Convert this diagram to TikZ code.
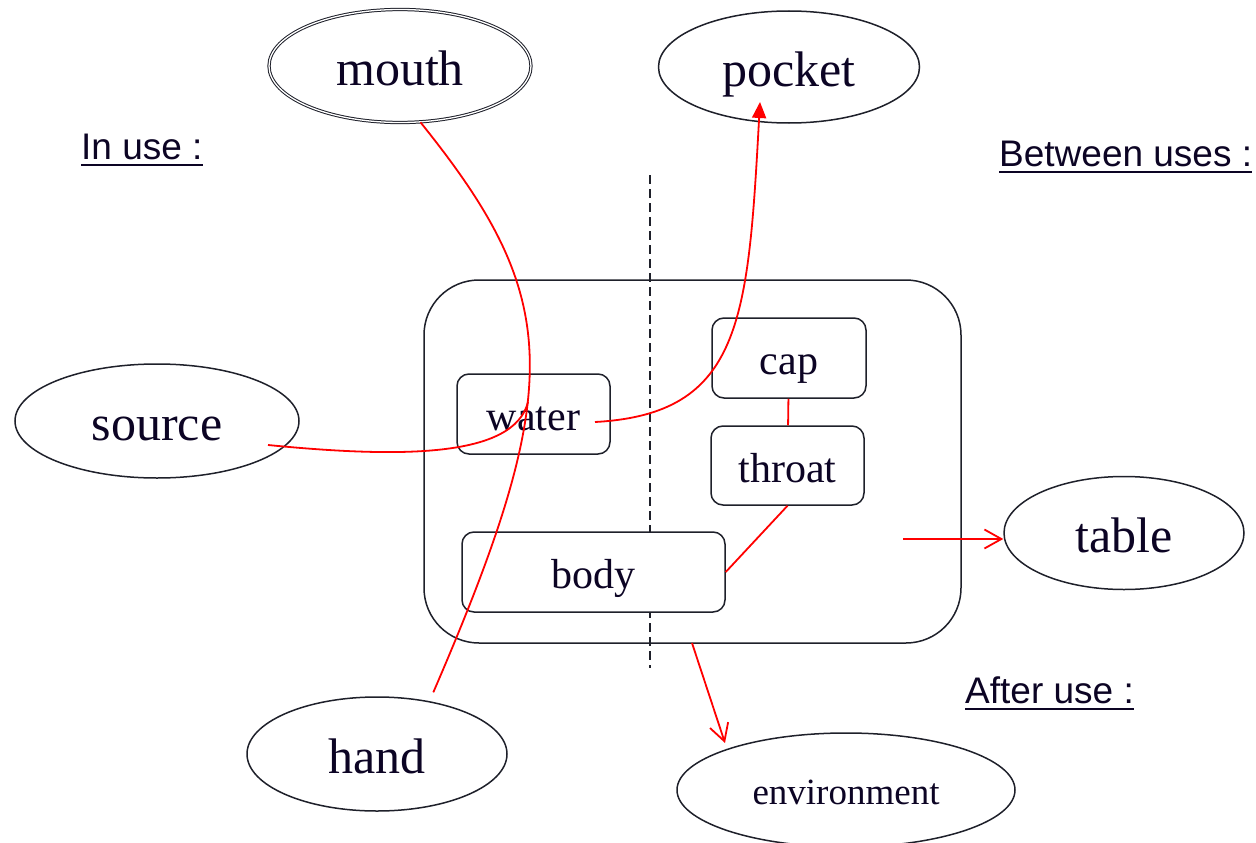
\documentclass[tikz,border=0pt]{standalone}
\usepackage{fontspec}
\setmainfont{Liberation Serif}
\setsansfont{Liberation Sans}
\usetikzlibrary{shapes.geometric,arrows.meta}
\definecolor{ink}{RGB}{12,4,36}
\definecolor{edge}{RGB}{30,32,42}
\definecolor{flow}{RGB}{255,0,0}
\begin{document}
\begin{tikzpicture}[x=1pt,y=-1pt,
  oval/.style={ellipse,draw=edge,line width=1.5pt,inner sep=0pt,text=ink,
    font=\fontsize{50}{60}\selectfont,text height=50.5pt,text depth=10.8pt},
  part/.style={rectangle,rounded corners=12pt,draw=edge,fill=white,line width=1.5pt,
    inner sep=0pt,text=ink,font=\fontsize{42}{50}\selectfont,
    text height=43pt,text depth=9.1pt},
  phase/.style={inner sep=0pt,anchor=base west,text=ink,
    font=\sffamily\fontsize{37}{44}\selectfont},
  flowline/.style={draw=flow,line width=1.8pt},
  openhead/.style={-{Straight Barb[length=17pt,width=19pt,line width=1.8pt]}},
  filledhead/.style={-{Triangle[length=16pt,width=14pt]}},
  ]
\useasboundingbox (0,0) rectangle (1256,843);

% outer bottle outline and the in-use / between-uses divider
\node[draw=edge,line width=1.5pt,rounded corners=55pt,minimum width=537pt,
      minimum height=363pt,inner sep=0pt] (bottle) at (692.5,461.5) {};
\draw[edge,line width=2pt,dash pattern=on 9pt off 5pt] (650,175) -- (650,668);

% parts of the bottle
\node[part,minimum width=153pt,minimum height=80pt] (water)  at (533.5,414) {water};
\node[part,minimum width=154pt,minimum height=80pt] (cap)    at (789,358)   {cap};
\node[part,minimum width=153pt,minimum height=79pt] (throat) at (787.5,465.5) {throat};
\node[part,minimum width=263pt,minimum height=80pt] (body)   at (593.5,572) {body};

% surroundings
\node[oval,double=white,double distance=1.3pt,line width=1pt,
      minimum width=262pt,minimum height=113pt] (mouth) at (400,66) {mouth};
\node[oval,minimum width=261pt,minimum height=112pt] (pocket) at (789,67)   {pocket};
\node[oval,minimum width=284pt,minimum height=114pt] (source) at (157,421)  {source};
\node[oval,minimum width=260pt,minimum height=114pt] (hand)   at (377,754)  {hand};
\node[oval,minimum width=240pt,minimum height=113pt] (table)  at (1124,533) {table};
\node[oval,minimum width=338pt,minimum height=114pt,font=\fontsize{37}{44}\selectfont,
      text height=37pt,text depth=8pt] (environment) at (846,790) {environment};

% phase captions
\node[phase] (inuse)   at (81,159)  {In use :};
\node[phase] (between) at (999,166) {Between uses :};
\node[phase] (after)   at (965,703) {After use :};
\foreach \c in {inuse,between,after}
  \draw[ink,line width=2pt] ([yshift=-6pt]\c.base west) -- ([yshift=-6pt]\c.base east);

% connector end points
\coordinate (srcin)   at (268,445);
\coordinate (join)    at (528,402);
\coordinate (waterin) at (595,422);
\coordinate (pockin)  at (760,102);
\coordinate (tblfrom) at (903,539);
\coordinate (envfrom) at (692,643);
\coordinate (envto)   at (725,743);

% flows
\draw[flowline] (mouth.-70) .. controls (562,298) and (566,385) .. ([shift={(8pt,8pt)}]hand.48);
\draw[flowline] (srcin) .. controls (400,458) and (514,458) .. (join);
\draw[flowline,filledhead] (waterin) .. controls (742,414) and (748,320) .. (pockin);
\draw[flowline] (cap) -- (throat);
\draw[flowline] (throat.south) -- (body.east);
\draw[flowline,openhead] (tblfrom) -- (tblfrom -| table.west);
\draw[flowline,openhead] (envfrom) -- (envto);
\end{tikzpicture}
\end{document}
